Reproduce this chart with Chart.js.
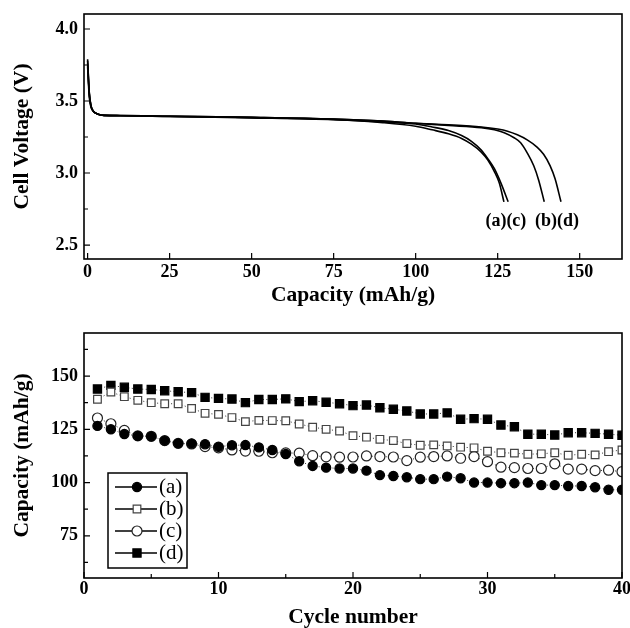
<!DOCTYPE html>
<html>
<head>
<meta charset="utf-8">
<script src="https://cdn.jsdelivr.net/npm/chart.js@4.4.1/dist/chart.umd.min.js"></script>
<style>
  body { margin: 0; background: #fff; }
  #wrap { position: relative; width: 630px; height: 628px; }
  canvas { position: absolute; left: 0; }
  #top { top: 0; }
  #bottom { top: 310px; }
</style>
</head>
<body>
<div id="wrap">
  <canvas id="top" width="630" height="310"></canvas>
  <canvas id="bottom" width="630" height="318"></canvas>
</div>
<script>
// ── Top panel: discharge curves (capacity mAh/g, voltage V) ──────
const capA  = [0, 0.5, 1, 1.7, 3, 5, 10, 25, 50, 75, 90, 100, 105, 110, 114, 117, 120, 122, 124, 125.5, 126.9];
const voltA = [3.79, 3.56, 3.47, 3.43, 3.41, 3.40, 3.398, 3.392, 3.383, 3.37, 3.35, 3.325, 3.30, 3.272, 3.24, 3.20, 3.145, 3.09, 3.01, 2.93, 2.80];
const capB  = [0, 0.5, 1, 1.7, 3, 5, 10, 25, 50, 75, 90, 100, 110, 120, 124, 127, 130, 132, 134, 136, 137.5, 139.2];
const voltB = [3.76, 3.55, 3.47, 3.43, 3.41, 3.40, 3.399, 3.394, 3.386, 3.374, 3.36, 3.345, 3.33, 3.315, 3.30, 3.28, 3.245, 3.21, 3.14, 3.05, 2.95, 2.80];
const capC  = [0, 0.5, 1, 1.7, 3, 5, 10, 25, 50, 75, 90, 100, 105, 110, 114, 117, 120, 122, 124, 126, 128.2];
const voltC = [3.74, 3.53, 3.46, 3.43, 3.41, 3.40, 3.398, 3.393, 3.385, 3.372, 3.355, 3.34, 3.32, 3.295, 3.26, 3.22, 3.16, 3.10, 3.03, 2.93, 2.80];
const capD  = [0, 0.5, 1, 1.7, 3, 5, 10, 25, 50, 75, 90, 100, 110, 120, 125, 128, 131, 134, 137, 139, 141, 142.5, 144.3];
const voltD = [3.78, 3.56, 3.47, 3.43, 3.41, 3.40, 3.399, 3.394, 3.386, 3.374, 3.36, 3.345, 3.335, 3.32, 3.305, 3.29, 3.265, 3.23, 3.18, 3.13, 3.05, 2.96, 2.80];

const curveLabels = ['(a)(c)', '(b)(d)'];
const curveLabelCap = [127.5, 143.1];
const curveLabelVolt = [2.667, 2.667];

const topXTicks = [0, 25, 50, 75, 100, 125, 150];
const topYTicks = [2.5, 3.0, 3.5, 4.0];
const topYMinor = [2.75, 3.25, 3.75];

// ── Bottom panel: capacity vs cycle number ───────────────────────
const cycles = [1, 2, 3, 4, 5, 6, 7, 8, 9, 10, 11, 12, 13, 14, 15, 16, 17, 18, 19, 20,
                21, 22, 23, 24, 25, 26, 27, 28, 29, 30, 31, 32, 33, 34, 35, 36, 37, 38, 39, 40];
const cycA = [126.6, 125.0, 122.8, 121.9, 121.7, 119.7, 118.4, 118.3, 118.0, 116.8, 117.5, 117.6, 116.5, 115.3, 113.4, 110.0, 107.8, 107.0, 106.6, 106.6,
              105.6, 103.5, 103.1, 102.5, 101.6, 101.6, 102.8, 102.0, 100.0, 100.0, 99.7, 99.7, 100.0, 98.8, 98.8, 98.4, 98.4, 97.8, 96.6, 96.6];
const cycB = [139.1, 142.5, 140.3, 138.6, 137.5, 137.0, 137.0, 134.8, 132.5, 132.0, 130.5, 128.6, 129.2, 129.1, 129.0, 127.5, 126.0, 125.0, 124.2, 122.0,
              121.3, 120.3, 119.7, 118.3, 117.5, 117.7, 117.2, 116.6, 116.3, 114.7, 114.0, 113.8, 113.3, 113.5, 114.0, 112.8, 113.3, 113.0, 114.5, 115.3];
const cycC = [130.3, 127.6, 124.5, 121.9, 121.7, 119.7, 118.4, 118.1, 116.9, 116.3, 115.3, 114.8, 114.7, 114.0, 113.9, 113.8, 112.6, 112.1, 111.9, 112.0,
              112.5, 112.2, 112.0, 110.3, 111.9, 112.2, 112.5, 111.4, 112.2, 109.8, 107.2, 107.0, 106.6, 106.6, 108.8, 106.3, 106.3, 105.6, 105.8, 105.1];
const cycD = [143.9, 145.6, 144.7, 143.9, 143.7, 143.1, 142.6, 142.2, 140.0, 139.5, 139.2, 137.5, 139.0, 139.0, 139.3, 138.0, 138.4, 137.7, 137.0, 136.1,
              136.4, 135.1, 134.4, 133.6, 132.2, 132.2, 132.7, 129.7, 130.0, 129.7, 127.0, 126.2, 122.7, 122.7, 122.3, 123.4, 123.4, 123.1, 122.7, 122.2];

const legendNames = ['(a)', '(b)', '(c)', '(d)'];

const botXTicks = [0, 10, 20, 30, 40];
const botXMinor = [5, 15, 25, 35];
const botYTicks = [75, 100, 125, 150];
const botYMinor = [62.5, 87.5, 112.5, 137.5, 162.5];

// ── Shared bits ──────────────────────────────────────────────────
Chart.defaults.color = '#000';

const SERIF = '"Liberation Serif", "Times New Roman", serif';
const tickFont = { family: SERIF, size: 18, weight: 'bold', lineHeight: 1.2 };
const titleFont = { family: SERIF, size: 21.5, weight: 'bold', lineHeight: 1 };

const zip = (xs, ys) => xs.map((x, i) => ({ x, y: ys[i] }));

// frame around the plot area and ticks pointing inward
const frameTicks = {
  id: 'frameTicks',
  afterDatasetsDraw(chart, args, o) {
    const { ctx, chartArea: a, scales: { x, y } } = chart;
    ctx.save();
    ctx.strokeStyle = '#000';
    ctx.lineWidth = 1.2;
    ctx.beginPath();
    (o.xMajor || []).forEach(v => { const p = x.getPixelForValue(v); ctx.moveTo(p, a.bottom); ctx.lineTo(p, a.bottom - 6); });
    (o.xMinor || []).forEach(v => { const p = x.getPixelForValue(v); ctx.moveTo(p, a.bottom); ctx.lineTo(p, a.bottom - 4); });
    (o.yMajor || []).forEach(v => { const p = y.getPixelForValue(v); ctx.moveTo(a.left, p); ctx.lineTo(a.left + 6, p); });
    (o.yMinor || []).forEach(v => { const p = y.getPixelForValue(v); ctx.moveTo(a.left, p); ctx.lineTo(a.left + 4, p); });
    ctx.stroke();
    ctx.lineWidth = 1.6;
    ctx.strokeRect(a.left, a.top, a.right - a.left, a.bottom - a.top);
    ctx.restore();
  }
};

function axisX(ticks, min, max, title, height, pad, titlePad) {
  return {
    type: 'linear', min, max,
    grid: { display: false, drawTicks: false }, border: { display: false },
    ticks: { font: tickFont, padding: pad, maxRotation: 0, callback: v => String(v) },
    afterBuildTicks: s => { s.ticks = ticks.map(v => ({ value: v })); },
    afterFit: s => { s.height = height; s.paddingLeft = 0; s.paddingRight = 0; },
    title: { display: true, text: title, font: titleFont, padding: { top: 0, bottom: titlePad } }
  };
}

function axisY(ticks, min, max, title, fmt) {
  return {
    type: 'linear', min, max,
    grid: { display: false, drawTicks: false }, border: { display: false },
    ticks: { font: tickFont, padding: 6, callback: fmt },
    afterBuildTicks: s => { s.ticks = ticks.map(v => ({ value: v })); },
    afterFit: s => { s.width = 84; s.paddingTop = 0; s.paddingBottom = 0; },
    title: { display: true, text: title, font: titleFont, padding: { top: 12, bottom: 0 } }
  };
}

// ── Top chart ────────────────────────────────────────────────────
const curveText = {
  id: 'curveText',
  afterDatasetsDraw(chart) {
    const { ctx, scales: { x, y } } = chart;
    ctx.save();
    ctx.font = 'bold 18px ' + SERIF;
    ctx.fillStyle = '#000';
    ctx.textAlign = 'center';
    ctx.textBaseline = 'middle';
    curveLabels.forEach((t, i) => ctx.fillText(t, x.getPixelForValue(curveLabelCap[i]), y.getPixelForValue(curveLabelVolt[i])));
    ctx.restore();
  }
};

const curveStyle = { borderColor: '#000', borderWidth: 1.6, pointRadius: 0, showLine: true, fill: false, cubicInterpolationMode: 'monotone' };

new Chart(document.getElementById('top'), {
  type: 'scatter',
  data: {
    datasets: [
      { label: '(a)', data: zip(capA, voltA), ...curveStyle },
      { label: '(b)', data: zip(capB, voltB), ...curveStyle },
      { label: '(c)', data: zip(capC, voltC), ...curveStyle },
      { label: '(d)', data: zip(capD, voltD), ...curveStyle }
    ]
  },
  options: {
    responsive: false, animation: false, devicePixelRatio: 1,
    layout: { padding: { top: 14, right: 8, left: 0, bottom: 0 } },
    plugins: {
      legend: { display: false }, tooltip: { enabled: false },
      frameTicks: { xMajor: topXTicks, yMajor: topYTicks, yMinor: topYMinor }
    },
    scales: {
      x: axisX(topXTicks, -1.1, 162.9, 'Capacity (mAh/g)', 51, 3, 4),
      y: axisY(topYTicks, 2.403, 4.104, 'Cell Voltage (V)', v => v.toFixed(1))
    }
  },
  plugins: [frameTicks, curveText]
});

// ── Bottom chart ─────────────────────────────────────────────────
const markers = [
  { style: 'circle', r: 4.6, fill: '#000', stroke: '#000' },
  { style: 'rect',   r: 5.4, fill: '#fff', stroke: '#444' },
  { style: 'circle', r: 5.0, fill: '#fff', stroke: '#222' },
  { style: 'rect',   r: 5.8, fill: '#000', stroke: '#000' }
];

function drawMarker(ctx, m, x, y) {
  ctx.beginPath();
  if (m.style === 'circle') ctx.arc(x, y, m.r, 0, Math.PI * 2);
  else { const h = m.r * Math.SQRT1_2; ctx.rect(x - h, y - h, 2 * h, 2 * h); }
  ctx.fillStyle = m.fill; ctx.fill();
  ctx.strokeStyle = m.stroke; ctx.lineWidth = 1.2; ctx.stroke();
}

const boxLegend = {
  id: 'boxLegend',
  afterDatasetsDraw(chart) {
    const ctx = chart.ctx;
    const bx = 108, by = 163, bw = 79, bh = 95;
    ctx.save();
    ctx.fillStyle = '#fff';
    ctx.fillRect(bx, by, bw, bh);
    ctx.strokeStyle = '#000'; ctx.lineWidth = 1.5;
    ctx.strokeRect(bx, by, bw, bh);
    ctx.font = '21px ' + SERIF;
    ctx.textBaseline = 'middle';
    legendNames.forEach((name, i) => {
      const yy = by + 14 + i * 22;
      ctx.strokeStyle = '#000'; ctx.lineWidth = 1.3;
      ctx.beginPath(); ctx.moveTo(bx + 7, yy); ctx.lineTo(bx + 49, yy); ctx.stroke();
      drawMarker(ctx, markers[i], bx + 29, yy);
      ctx.fillStyle = '#000';
      ctx.fillText(name, bx + 51, yy);
    });
    ctx.restore();
  }
};

function cycleSet(label, values, m) {
  return {
    label, data: zip(cycles, values), showLine: true, clip: 0,
    borderColor: '#333', borderWidth: 1, borderDash: [1, 2.5],
    pointStyle: m.style, pointRadius: m.r, pointBackgroundColor: m.fill,
    pointBorderColor: m.stroke, pointBorderWidth: 1.2
  };
}

new Chart(document.getElementById('bottom'), {
  type: 'scatter',
  data: {
    datasets: [
      cycleSet('(a)', cycA, markers[0]),
      cycleSet('(b)', cycB, markers[1]),
      cycleSet('(c)', cycC, markers[2]),
      cycleSet('(d)', cycD, markers[3])
    ]
  },
  options: {
    responsive: false, animation: false, devicePixelRatio: 1,
    layout: { padding: { top: 23, right: 8, left: 0, bottom: 0 } },
    plugins: {
      legend: { display: false }, tooltip: { enabled: false },
      frameTicks: { xMajor: botXTicks, xMinor: botXMinor, yMajor: botYTicks, yMinor: botYMinor }
    },
    scales: {
      x: axisX(botXTicks, 0, 40, 'Cycle number', 50, 1, 0),
      y: axisY(botYTicks, 55.2, 170.2, 'Capacity (mAh/g)', v => String(v))
    }
  },
  plugins: [frameTicks, boxLegend]
});
</script>
</body>
</html>
